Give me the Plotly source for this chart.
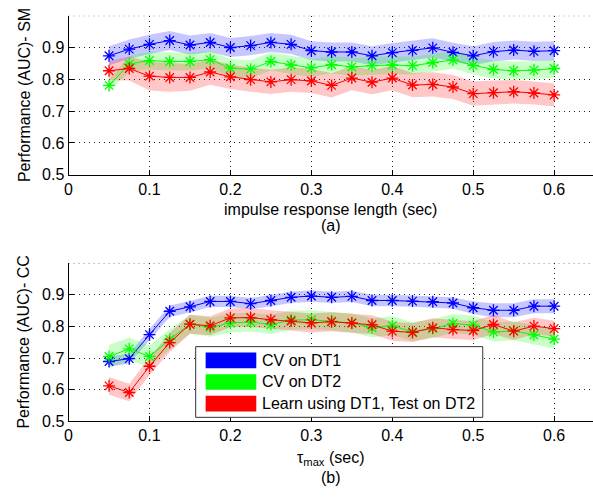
import plotly.graph_objects as go

# Window lengths (sec)
x_vals = [0.05, 0.075, 0.1, 0.125, 0.15, 0.175, 0.2, 0.225, 0.25, 0.275, 0.3, 0.325,
          0.35, 0.375, 0.4, 0.425, 0.45, 0.475, 0.5, 0.525, 0.55, 0.575, 0.6]

# (a) SM features: mean AUC and spread
sm_cv_dt1 = [0.874, 0.895, 0.910, 0.922, 0.908, 0.916, 0.900, 0.906, 0.916, 0.910, 0.890, 0.886,
             0.886, 0.874, 0.884, 0.891, 0.899, 0.885, 0.874, 0.887, 0.892, 0.888, 0.890]
sm_cv_dt2 = [0.781, 0.848, 0.859, 0.856, 0.856, 0.862, 0.835, 0.832, 0.856, 0.845, 0.836, 0.846,
             0.839, 0.843, 0.845, 0.843, 0.853, 0.861, 0.844, 0.831, 0.827, 0.829, 0.834]
sm_cross = [0.827, 0.834, 0.810, 0.806, 0.806, 0.823, 0.808, 0.799, 0.792, 0.799, 0.795, 0.781,
            0.804, 0.791, 0.804, 0.782, 0.784, 0.776, 0.755, 0.758, 0.761, 0.757, 0.751]
sm_cv_dt1_sd = [0.030, 0.030, 0.030, 0.030, 0.030, 0.030, 0.030, 0.030, 0.030, 0.030, 0.030, 0.030,
                0.030, 0.030, 0.030, 0.030, 0.030, 0.030, 0.030, 0.030, 0.030, 0.030, 0.030]
sm_cv_dt2_sd = [0.018, 0.025, 0.028, 0.028, 0.028, 0.028, 0.028, 0.028, 0.028, 0.028, 0.028, 0.028,
                0.028, 0.028, 0.028, 0.028, 0.028, 0.028, 0.028, 0.028, 0.028, 0.028, 0.028]
sm_cross_sd = [0.030, 0.038, 0.045, 0.045, 0.042, 0.040, 0.038, 0.038, 0.038, 0.038, 0.038, 0.038,
               0.038, 0.038, 0.038, 0.038, 0.038, 0.038, 0.038, 0.038, 0.037, 0.036, 0.036]

# (b) CC features: mean AUC and spread
cc_cv_dt1 = [0.689, 0.698, 0.774, 0.848, 0.862, 0.879, 0.879, 0.872, 0.882, 0.892, 0.896, 0.892,
             0.895, 0.882, 0.882, 0.880, 0.878, 0.874, 0.859, 0.851, 0.851, 0.864, 0.864]
cc_cv_dt2 = [0.705, 0.729, 0.705, 0.759, 0.807, 0.797, 0.811, 0.814, 0.806, 0.820, 0.821, 0.817,
             0.811, 0.796, 0.802, 0.783, 0.793, 0.809, 0.804, 0.782, 0.786, 0.773, 0.760]
cc_cross = [0.612, 0.591, 0.674, 0.749, 0.807, 0.802, 0.827, 0.828, 0.821, 0.817, 0.811, 0.815,
            0.811, 0.805, 0.785, 0.781, 0.796, 0.790, 0.787, 0.806, 0.785, 0.801, 0.793]
cc_cv_dt1_sd = [0.016, 0.016, 0.018, 0.018, 0.018, 0.018, 0.018, 0.018, 0.018, 0.018, 0.018, 0.018,
                0.018, 0.018, 0.018, 0.018, 0.018, 0.018, 0.020, 0.022, 0.022, 0.022, 0.022]
cc_cv_dt2_sd = [0.036, 0.036, 0.034, 0.032, 0.030, 0.030, 0.030, 0.030, 0.030, 0.030, 0.030, 0.030,
                0.030, 0.030, 0.030, 0.030, 0.030, 0.030, 0.030, 0.030, 0.030, 0.030, 0.030]
cc_cross_sd = [0.028, 0.028, 0.028, 0.030, 0.030, 0.030, 0.030, 0.030, 0.030, 0.030, 0.030, 0.030,
               0.030, 0.030, 0.030, 0.030, 0.030, 0.030, 0.030, 0.030, 0.028, 0.026, 0.025]

series_names = ["CV on DT1", "CV on DT2", "Learn using DT1, Test on DT2"]
line_colors = ["#0000ff", "#00ff00", "#ff0000"]
band_colors = ["rgba(0,0,255,0.22)", "rgba(0,255,0,0.22)", "rgba(255,0,0,0.22)"]

x_ticks = [0, 0.1, 0.2, 0.3, 0.4, 0.5, 0.6]
y_ticks = [0.5, 0.6, 0.7, 0.8, 0.9]
y_top = 1.0

W, H = 593, 499
FONT = "Liberation Sans, Arial, sans-serif"
GRID_DASH = "1px,4px"

fig = go.Figure()

panels = [
    ("x", "y", [sm_cv_dt1, sm_cv_dt2, sm_cross], [sm_cv_dt1_sd, sm_cv_dt2_sd, sm_cross_sd]),
    ("x2", "y2", [cc_cv_dt1, cc_cv_dt2, cc_cross], [cc_cv_dt1_sd, cc_cv_dt2_sd, cc_cross_sd]),
]

for xa, ya, means, sds in panels:
    # shaded spread bands
    for m, s, bc in zip(means, sds, band_colors):
        upper = [a + b for a, b in zip(m, s)]
        lower = [a - b for a, b in zip(m, s)]
        fig.add_trace(go.Scatter(
            x=x_vals + x_vals[::-1], y=upper + lower[::-1],
            fill="toself", fillcolor=bc, line=dict(width=0), mode="lines",
            hoverinfo="skip", showlegend=False, xaxis=xa, yaxis=ya))
    # mean curves with asterisk markers
    for m, lc, name in zip(means, line_colors, series_names):
        fig.add_trace(go.Scatter(
            x=x_vals, y=m, mode="lines+markers", name=name,
            line=dict(color=lc, width=1),
            marker=dict(symbol="asterisk-open", size=10, color=lc,
                        line=dict(color=lc, width=1.3)),
            showlegend=False, xaxis=xa, yaxis=ya))

def px_x(p):
    return p / W

def px_y(p):
    return 1 - p / H

axis_common = dict(
    showline=True, linecolor="black", linewidth=1, mirror=False,
    ticks="inside", ticklen=5, tickcolor="black",
    showgrid=True, gridcolor="#222222", gridwidth=1, griddash=GRID_DASH,
    zeroline=False, tickfont=dict(family=FONT, size=16, color="black"),
)

x_dom = [px_x(65), 1.0]
fig.update_layout(
    width=W, height=H,
    margin=dict(l=0, r=0, t=0, b=0),
    paper_bgcolor="white", plot_bgcolor="white",
    font=dict(family=FONT, size=16, color="black"),
    xaxis=dict(domain=x_dom, range=[0, 0.648], tickvals=x_ticks,
               ticktext=[str(v) for v in x_ticks], anchor="y", **axis_common),
    yaxis=dict(domain=[px_y(178), px_y(16)], range=[0.5, y_top], tickvals=y_ticks,
               ticktext=[str(v) for v in y_ticks], anchor="x", **axis_common),
    xaxis2=dict(domain=x_dom, range=[0, 0.648], tickvals=x_ticks,
                ticktext=[str(v) for v in x_ticks], anchor="y2", **axis_common),
    yaxis2=dict(domain=[px_y(429), px_y(268)], range=[0.5, y_top], tickvals=y_ticks,
                ticktext=[str(v) for v in y_ticks], anchor="x2", **axis_common),
)

annotations = [
    dict(text="Performance (AUC)- SM", x=px_x(20), y=px_y(97), textangle=-90),
    dict(text="Performance (AUC)- CC", x=px_x(20), y=px_y(348), textangle=-90),
    dict(text="impulse response length (sec)", x=px_x(329), y=px_y(213)),
    dict(text="(a)", x=px_x(329), y=px_y(230)),
    dict(text="τ<sub>max</sub> (sec)", x=px_x(329), y=px_y(467)),
    dict(text="(b)", x=px_x(329), y=px_y(486)),
]
for a in annotations:
    a.update(xref="paper", yref="paper", showarrow=False, xanchor="center",
             yanchor="middle", font=dict(family=FONT, size=16, color="black"))
    fig.add_annotation(**a)

# dotted top grid line of each panel (y = 1.0, unlabelled)
shapes = []
for xa, ya in (("x", "y"), ("x2", "y2")):
    shapes.append(dict(type="line", xref=f"{xa} domain", yref=ya, x0=0, x1=1,
                       y0=y_top, y1=y_top, layer="below",
                       line=dict(color="#222222", width=1, dash=GRID_DASH)))

# legend box drawn in the lower panel
shapes.append(dict(type="rect", xref="paper", yref="paper",
                   x0=px_x(193), x1=px_x(482), y0=px_y(425), y1=px_y(353),
                   fillcolor="white", line=dict(color="#333333", width=1), layer="above"))
row_tops = [359, 381, 403]
for top, lc, name in zip(row_tops, line_colors, series_names):
    shapes.append(dict(type="rect", xref="paper", yref="paper",
                       x0=px_x(203), x1=px_x(254), y0=px_y(top + 16), y1=px_y(top),
                       fillcolor=lc, line=dict(width=0), layer="above"))
    fig.add_annotation(text=name, xref="paper", yref="paper", x=px_x(258),
                       y=px_y(top + 8), xanchor="left", yanchor="middle", showarrow=False,
                       font=dict(family=FONT, size=16, color="black"))
fig.update_layout(shapes=shapes)

fig.write_html("out.html")
